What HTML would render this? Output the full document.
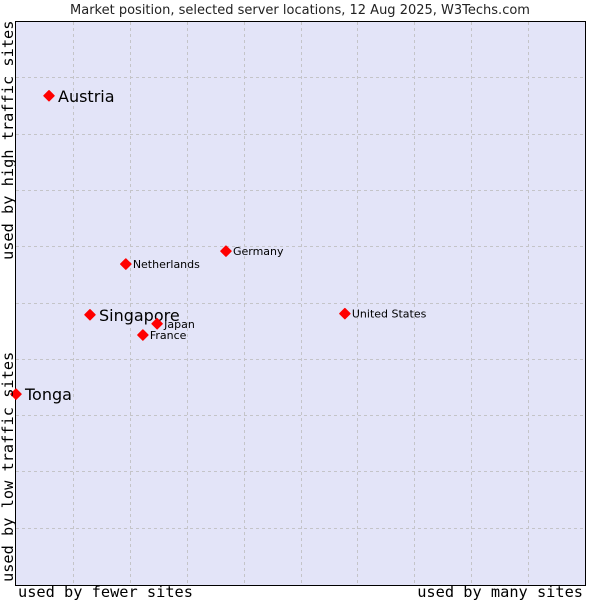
<!DOCTYPE html>
<html><head><meta charset="utf-8"><style>
body{margin:0;background:#fff;}
svg{display:block;font-family:"DejaVu Sans","Liberation Sans",sans-serif;}
</style></head><body>
<svg id="chart" width="600" height="600">
<text x="300" y="14" text-anchor="middle" font-size="13" fill="#222">Market position, selected server locations, 12 Aug 2025, W3Techs.com</text>
<rect x="15.5" y="21.5" width="570" height="564" fill="#e3e4f8" stroke="#000" stroke-width="1"/>
<g id="grid"></g>
<g id="points"></g>
<text x="18" y="597" font-family="DejaVu Sans Mono,monospace" font-size="15.3" fill="#000">used by fewer sites</text>
<text x="583" y="597" text-anchor="end" font-family="DejaVu Sans Mono,monospace" font-size="15.3" fill="#000">used by many sites</text>
<text transform="translate(13,582) rotate(-90)" font-family="DejaVu Sans Mono,monospace" font-size="15.3" fill="#000">used by low traffic sites</text>
<text transform="translate(13,260) rotate(-90)" font-family="DejaVu Sans Mono,monospace" font-size="15.3" fill="#000">used by high traffic sites</text>
</svg>
<script>
const names=["Austria","Tonga","Singapore","Japan","France","Netherlands","Germany","United States"];
const xValues=[5.8,0,13.0,24.8,22.3,19.3,36.9,57.8];
const yValues=[86.9,33.9,48.0,46.4,44.4,57.0,59.3,48.2];
const bigLabel=[true,true,true,false,false,false,false,false];
const X0=16,X1=585,Y0=585,Y1=22;
const sx=v=>X0+v/100*(X1-X0);
const sy=v=>Y0-v/100*(Y0-Y1);
const NS="http://www.w3.org/2000/svg";
const grid=document.getElementById('grid');
for(let i=1;i<10;i++){
  const gx=Math.round(X0+i*(X1-X0)/10)+0.5;
  const l=document.createElementNS(NS,'line');
  l.setAttribute('x1',gx);l.setAttribute('x2',gx);l.setAttribute('y1',22);l.setAttribute('y2',585);
  l.setAttribute('stroke','#c4c4c8');l.setAttribute('stroke-dasharray','3,3');
  
  
  grid.appendChild(l);
  const gy=Math.round(Y1+i*(Y0-Y1)/10)-0.5;
  const h=document.createElementNS(NS,'line');
  h.setAttribute('x1',16);h.setAttribute('x2',585);h.setAttribute('y1',gy);h.setAttribute('y2',gy);
  h.setAttribute('stroke','#c4c4c8');h.setAttribute('stroke-dasharray','3,3');
  
  
  grid.appendChild(h);
}
const pts=document.getElementById('points');
names.forEach((n,i)=>{
  const cx=sx(xValues[i]),cy=sy(yValues[i]);
  const d=document.createElementNS(NS,'path');
  d.setAttribute('d',`M${cx-5},${cy}L${cx},${cy-5}L${cx+5},${cy}L${cx},${cy+5}Z`);
  d.setAttribute('fill','#f00');
  d.setAttribute('stroke','#f00');
  d.setAttribute('stroke-linejoin','round');
  d.setAttribute('stroke-width','1.5');
  
  
  pts.appendChild(d);
  const t=document.createElementNS(NS,'text');
  t.setAttribute('x',cx+(bigLabel[i]?9:7));
  t.setAttribute('y',cy+(bigLabel[i]?6:4));
  t.setAttribute('font-size',bigLabel[i]?16:11);
  t.setAttribute('fill','#000');
  t.textContent=n;
  
  
  pts.appendChild(t);
});
</script>
</body></html>
